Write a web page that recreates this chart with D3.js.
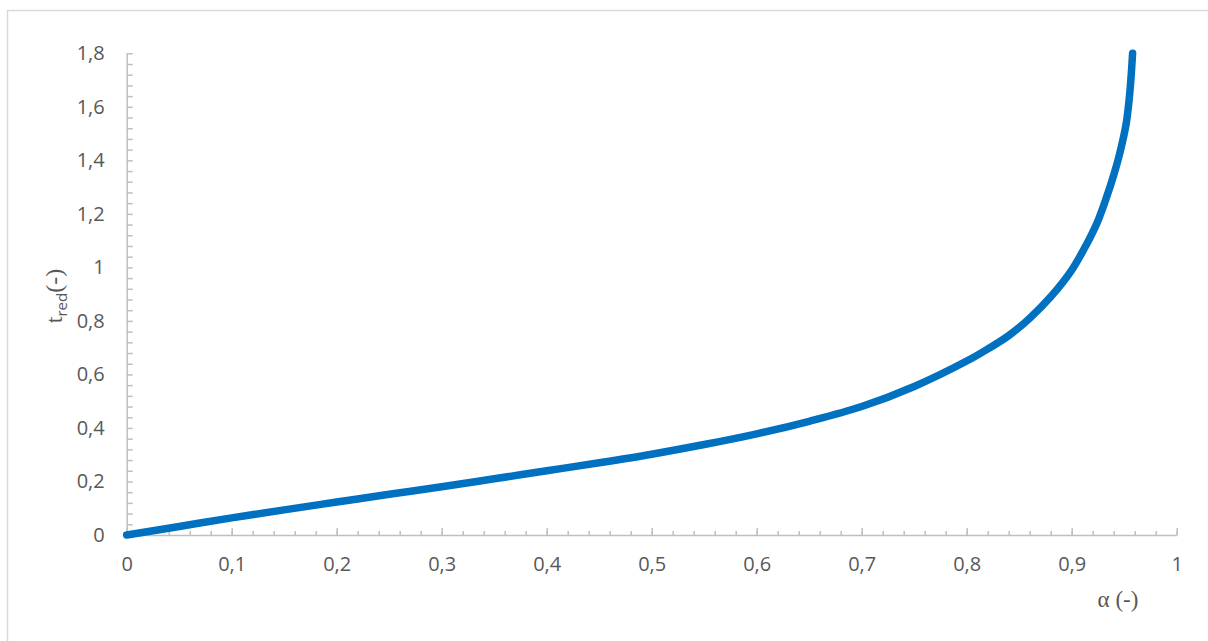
<!DOCTYPE html>
<html><head><meta charset="utf-8">
<script src="https://cdn.jsdelivr.net/npm/d3@7"></script>
<style>body{margin:0;background:#fff}svg{display:block}</style>
</head><body>
<svg id="chart" width="1208" height="641"></svg>
<script>
const alpha = [0,0.05,0.1,0.15,0.2,0.25,0.3,0.35,0.4,0.45,0.5,0.55,0.6,0.65,0.7,0.75,0.8,0.82,0.84,0.86,0.88,0.9,0.914,0.924,0.933,0.94,0.946,0.952,0.9555,0.958];
const tred  = [0,0.032,0.064,0.094,0.123,0.152,0.18,0.21,0.24,0.27,0.302,0.338,0.378,0.425,0.48,0.555,0.65,0.695,0.745,0.81,0.89,0.99,1.085,1.165,1.26,1.345,1.43,1.54,1.66,1.8];
const xTicks = [0,0.1,0.2,0.3,0.4,0.5,0.6,0.7,0.8,0.9,1];
const yTicks = [0,0.2,0.4,0.6,0.8,1,1.2,1.4,1.6,1.8];

const svg = d3.select("#chart");
const L=126.7, R=1176.7, T=53.3, B=535;
const x = d3.scaleLinear().domain([0,1]).range([L,R]);
const y = d3.scaleLinear().domain([0,1.8]).range([B,T]);
const fmt = d => String(d).replace(".", ",");
const axisCol = "#bfbfbf", txtCol = "#595959";

svg.append("rect").attr("x",7.5).attr("y",10.5).attr("width",1220).attr("height",650)
  .attr("fill","none").attr("stroke","#d9d9d9").attr("stroke-width",1.5);

// minor ticks
const xMinor = d3.range(0,1.0001,0.02);
const yMinor = d3.range(0,1.8001,0.04);
const xa = svg.append("g").attr("transform",`translate(0,${B})`)
  .call(d3.axisBottom(x).tickValues(xMinor).tickSize(-4).tickFormat(""));
xa.selectAll("line,path").attr("stroke",axisCol).attr("stroke-width",1.5);
xa.select(".domain").remove();
const xb = svg.append("g").attr("transform",`translate(0,${B})`)
  .call(d3.axisBottom(x).tickValues(xTicks).tickSize(-7).tickSizeOuter(0).tickPadding(22).tickFormat(fmt));
xb.selectAll("line,path").attr("stroke",axisCol).attr("stroke-width",1.5);
xb.selectAll("text").attr("fill",txtCol).style("font-family","'Open Sans', sans-serif").style("font-size","20px");

const ya = svg.append("g").attr("transform",`translate(${L},0)`)
  .call(d3.axisLeft(y).tickValues(yMinor).tickSize(-6).tickSizeOuter(0).tickFormat(""));
ya.selectAll("line,path").attr("stroke",axisCol).attr("stroke-width",1.5);
const yb = svg.append("g").attr("transform",`translate(${L},0)`)
  .call(d3.axisLeft(y).tickValues(yTicks).tickSize(0).tickPadding(22).tickFormat(fmt));
yb.select(".domain").remove();
yb.selectAll("text").attr("fill",txtCol).style("font-family","'Open Sans', sans-serif").style("font-size","20px");

// curve
const data = alpha.map((a,i)=>[a,tred[i]]);
svg.append("path").datum(data)
  .attr("d", d3.line().x(d=>x(d[0])).y(d=>y(d[1])).curve(d3.curveCatmullRom.alpha(0.5)))
  .attr("fill","none").attr("stroke","#0070c0").attr("stroke-width",7.5)
  .attr("stroke-linecap","round").attr("stroke-linejoin","round");

// axis titles
svg.append("text").attr("x",1118).attr("y",607).attr("text-anchor","middle")
  .attr("fill",txtCol).style("font-family","'Liberation Serif', serif").style("font-size","23px")
  .text("α (-)");
const yt = svg.append("text").attr("transform","translate(62,296) rotate(-90)")
  .attr("text-anchor","middle").attr("fill",txtCol)
  .style("font-family","'Liberation Serif', serif").style("font-size","24px");
yt.append("tspan").text("t");
yt.append("tspan").attr("dy",5).style("font-family","'Open Sans', sans-serif").style("font-size","15px").text("red");
yt.append("tspan").attr("dy",-5).text("(-)");
</script>
</body></html>
